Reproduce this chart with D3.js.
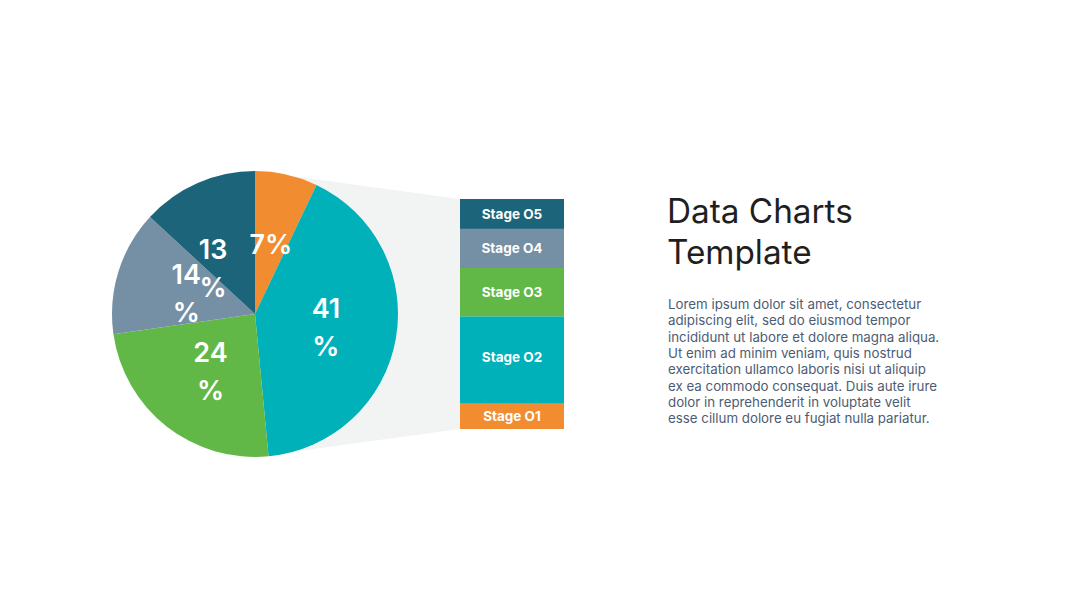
<!DOCTYPE html>
<html><head><meta charset="utf-8">
<script src="https://cdn.jsdelivr.net/npm/d3@7"></script>
<style>body{margin:0;background:#fff}svg{display:block}</style>
</head><body>
<svg id="c" width="1080" height="608"></svg>
<script>
// data
const pieLabels = ["7%", "41 %", "24 %", "14 %", "13 %"];
const pieValues = [7, 41, 24, 14, 13];
const pieColors = ["#f28c30", "#00b1ba", "#62b846", "#7590a4", "#1c6479"];
const stageNames = ["Stage 01", "Stage 02", "Stage 03", "Stage 04", "Stage 05"];
const stageValues = [11, 38, 21, 17, 13];
const stageColors = ["#f28c30", "#00b1ba", "#62b846", "#7590a4", "#1c6479"];
const titleLines = ["Data Charts", "Template"];
const bodyLines = [
 "Lorem ipsum dolor sit amet, consectetur",
 "adipiscing elit, sed do eiusmod tempor",
 "incididunt ut labore et dolore magna aliqua.",
 "Ut enim ad minim veniam, quis nostrud",
 "exercitation ullamco laboris nisi ut aliquip",
 "ex ea commodo consequat. Duis aute irure",
 "dolor in reprehenderit in voluptate velit",
 "esse cillum dolore eu fugiat nulla pariatur."
];

const svg = d3.select("#c");
const cx = 255, cy = 314, R = 143;
const barX = 460, barW = 104, barTop = 199, barBot = 429;
// layout nudges for label placement (pixels)
const labelNudge = [[0, 0], [0, 0], [0, 0], [0, 0], [-13, 20]];

// funnel background
svg.append("path")
  .attr("d", d3.line()([[cx, cy - R], [barX, barTop], [barX, barBot], [cx, cy + R]]) + "Z")
  .attr("fill", "#f2f4f4");

// pie
const pie = d3.pie().sort(null).value(d => d);
const arcs = pie(pieValues);
const arc = d3.arc().innerRadius(0).outerRadius(R);
const labelArc = d3.arc().innerRadius(72).outerRadius(72);
const g = svg.append("g").attr("transform", `translate(${cx},${cy})`);
g.selectAll("path").data(arcs).join("path")
  .attr("d", arc).attr("fill", (d, i) => pieColors[i]);

g.selectAll("text").data(arcs).join("text")
  .attr("transform", (d, i) => {
    const c = labelArc.centroid(d);
    return `translate(${c[0] + labelNudge[i][0]},${c[1] + labelNudge[i][1]})`;
  })
  .attr("text-anchor", "middle")
  .attr("fill", "#fff")
  .attr("font-family", "Inter, 'Open Sans', sans-serif")
  .attr("font-weight", 600)
  .attr("font-size", 27)
  .each(function(d, i) {
    const parts = pieLabels[i].split(" ");
    const t = d3.select(this);
    const lh = 38;
    const y0 = -((parts.length - 1) * lh) / 2 + 10;
    parts.forEach((p, k) => t.append("tspan").attr("x", 0).attr("y", y0 + k * lh).text(p));
  });

// stacked bar
const yScale = d3.scaleLinear().domain([0, d3.sum(stageValues)]).range([barBot, barTop]);
let acc = 0;
const segs = stageValues.map((v, i) => { const s = {i, y0: acc, y1: acc + v}; acc += v; return s; });
const bg = svg.append("g");
bg.selectAll("rect").data(segs).join("rect")
  .attr("x", barX).attr("width", barW)
  .attr("y", d => yScale(d.y1)).attr("height", d => yScale(d.y0) - yScale(d.y1))
  .attr("fill", d => stageColors[d.i]);
bg.selectAll("text").data(segs).join("text")
  .attr("x", barX + barW / 2)
  .attr("y", d => (yScale(d.y0) + yScale(d.y1)) / 2 + 5 - (d.i === 1 ? 3 : 0))
  .attr("text-anchor", "middle").attr("fill", "#fff")
  .attr("font-family", "Inter, 'Open Sans', sans-serif")
  .attr("font-weight", 700).attr("font-size", 13.5)
  .text(d => stageNames[d.i].replace("0", "O"));

// title
svg.append("g").selectAll("text").data(titleLines).join("text")
  .attr("x", 667).attr("y", (d, i) => 223 + i * 41)
  .attr("fill", "#1f1f1f")
  .attr("font-family", "Inter, 'Open Sans', sans-serif")
  .attr("font-size", 33.3)
  .text(d => d);

// body
svg.append("g").selectAll("text").data(bodyLines).join("text")
  .attr("x", 668).attr("y", (d, i) => 309 + i * 16.3)
  .attr("fill", "#4d5c74")
  .attr("font-family", "Inter, 'Open Sans', sans-serif")
  .attr("font-size", 13.3)
  .text(d => d);
</script>
</body></html>
